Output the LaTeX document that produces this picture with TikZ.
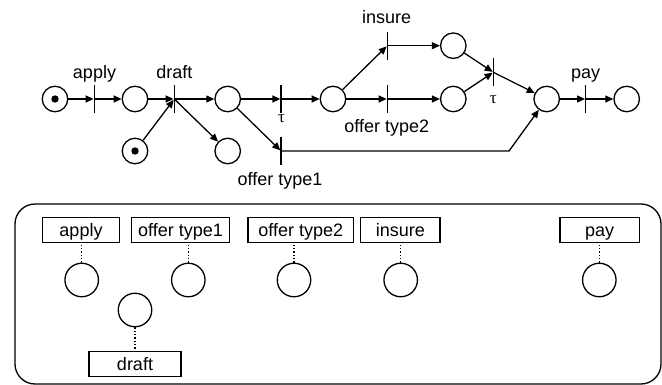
\documentclass[tikz,border=0pt]{standalone}
\usepackage{fontspec}
\setmainfont{Liberation Sans}
\newfontfamily\taufont{Liberation Serif}
\usetikzlibrary{arrows.meta}
\begin{document}
\begin{tikzpicture}[x=1pt,y=-1pt,line width=1.3pt,
  place/.style={circle,draw,minimum size=25.5pt,inner sep=0pt},
  bplace/.style={circle,draw,minimum size=33.5pt,inner sep=0pt},
  trans/.style={rectangle,minimum width=0pt,minimum height=27pt,inner sep=0pt},
  arc/.style={-{Triangle[length=8pt,width=7pt]}},
  lbl/.style={font=\fontsize{18}{20}\selectfont,anchor=base,inner sep=0pt},
  taulbl/.style={font=\taufont\fontsize{17}{17}\selectfont,inner sep=0pt},
  tbox/.style={rectangle,draw,minimum height=25pt,inner sep=0pt,font=\fontsize{18}{20}\selectfont,text height=13pt,text depth=0.2pt},
  link/.style={dotted}]
\useasboundingbox (0,0) rectangle (662,385);
% places
\node[place] (p0) at (55,99) {};
\node[place] (p1) at (135,99) {};
\node[place] (p2) at (135,151) {};
\node[place] (p3) at (227.7,99) {};
\node[place] (p4) at (227.7,151) {};
\node[place] (p5) at (333,99) {};
\node[place] (p6) at (453.3,45.7) {};
\node[place] (p7) at (453.3,99) {};
\node[place] (p8) at (546.7,99) {};
\node[place] (p9) at (626.7,99) {};
\fill (p0.center) circle (3.7pt);
\fill (p2.center) circle (3.7pt);
% transitions
\node[trans] (tapply) at (94.3,99) {};
\node[trans] (tdraft) at (174.3,99) {};
\node[trans] (ttau1) at (281,99) {};
\node[trans] (tot1) at (281,151) {};
\node[trans] (tins) at (387.3,45.7) {};
\node[trans] (tot2) at (387.3,99) {};
\node[trans] (ttau2) at (493.3,72.3) {};
\node[trans] (tpay) at (585.7,99) {};
\foreach \t in {tapply,tdraft,ttau1,tot1,tins,tot2,ttau2,tpay}
  \draw (\t.north) -- (\t.south);
\coordinate (bend) at (509,151);
% labels
\node[lbl] (lapply) at (94.5,78.3) {apply};
\node[lbl] (ldraft) at (174.3,78.3) {draft};
\node[lbl] (lins) at (386.7,24) {insure};
\node[lbl] (lot2) at (386.7,132.7) {offer type2};
\node[lbl] (lot1) at (280,185.7) {offer type1};
\node[lbl] (lpay) at (585.7,79) {pay};
\node[taulbl] (ltau1) at (281.5,119) {τ};
\node[taulbl] (ltau2) at (493.3,100) {τ};
% arcs
\draw[arc] (p0) -- (tapply);
\draw[arc] (tapply) -- (p1);
\draw[arc] (p1) -- (tdraft);
\draw[arc] (p2) -- (tdraft);
\draw[arc] (tdraft) -- (p3);
\draw[arc] (tdraft) -- (p4);
\draw[arc] (p3) -- (ttau1);
\draw[arc] (ttau1) -- (p5);
\draw[arc] (p3) -- (tot1);
\draw[arc] (p5) -- (tins);
\draw[arc] (tins) -- (p6);
\draw[arc] (p5) -- (tot2);
\draw[arc] (tot2) -- (p7);
\draw[arc] (p6) -- (ttau2);
\draw[arc] (p7) -- (ttau2);
\draw[arc] (ttau2) -- (p8);
\draw[arc] (tot1.center) -- (bend) -- (p8);
\draw[arc] (p8) -- (tpay);
\draw[arc] (tpay) -- (p9);
% bottom frame
\draw[rounded corners=20pt] (15,204) rectangle (661,384);
\node[tbox,minimum width=77pt] (bapply) at (81,230.3) {apply};
\node[tbox,minimum width=98pt] (bot1) at (180.5,230.3) {offer type1};
\node[tbox,minimum width=105.5pt] (bot2) at (300.7,230.3) {offer type2};
\node[tbox,minimum width=79.5pt] (bins) at (400.3,230.3) {insure};
\node[tbox,minimum width=79.5pt] (bpay) at (599.7,230.3) {pay};
\node[tbox,minimum width=92pt] (bdraft) at (135,364.2) {draft};
\node[bplace] (qapply) at (81.7,280) {};
\node[bplace] (qot1) at (188.3,280) {};
\node[bplace] (qot2) at (294,280) {};
\node[bplace] (qins) at (400.7,280) {};
\node[bplace] (qpay) at (599.3,280) {};
\node[bplace] (qdraft) at (135,310) {};
\draw[link] (qapply.north) -- (qapply.north |- bapply.south);
\draw[link] (qot1.north) -- (qot1.north |- bot1.south);
\draw[link] (qot2.north) -- (qot2.north |- bot2.south);
\draw[link] (qins.north) -- (qins.north |- bins.south);
\draw[link] (qpay.north) -- (qpay.north |- bpay.south);
\draw[link] (qdraft.south) -- (qdraft.south |- bdraft.north);
\end{tikzpicture}
\end{document}
